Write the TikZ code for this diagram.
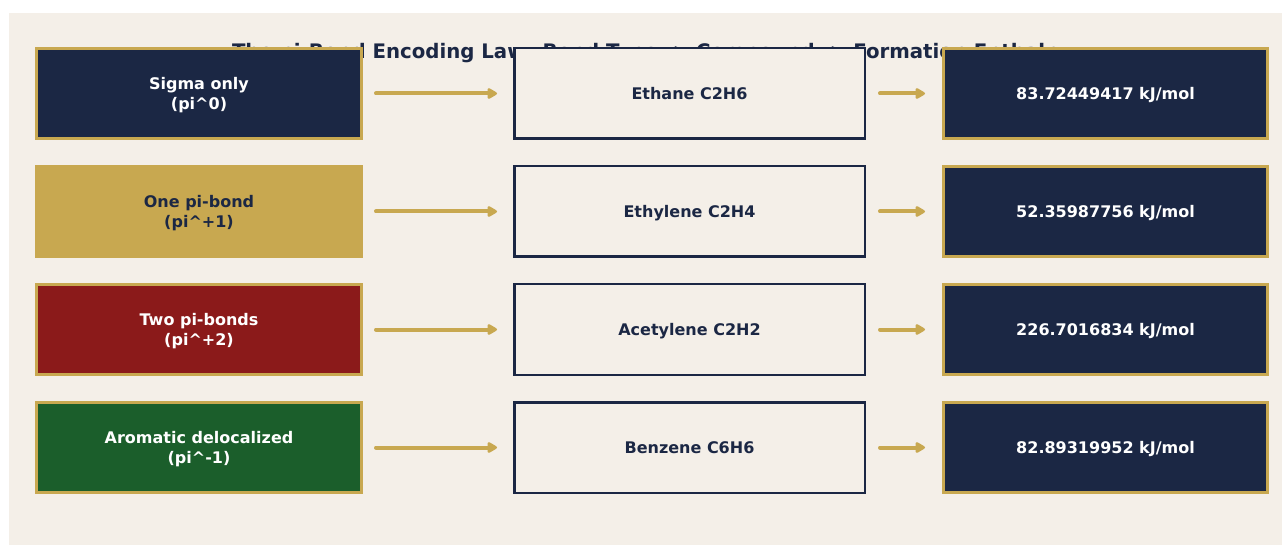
\documentclass[tikz,border=0pt]{standalone}
\usepackage{fontspec}
\usepackage{graphicx}
\setmainfont{DejaVu Sans}
\usetikzlibrary{arrows.meta}

\definecolor{navy}{RGB}{27,39,68}
\definecolor{gold}{RGB}{200,168,80}
\definecolor{bondred}{RGB}{139,26,26}
\definecolor{bondgreen}{RGB}{27,94,43}
\definecolor{paper}{RGB}{244,239,232}

% centred label, set a little low in its box
\newcommand{\boxlabel}[1]{\raisebox{-2pt}[\height][\depth]{\begin{tabular}{@{}c@{}}#1\end{tabular}}}

\tikzset{
  boxtext/.style={font=\bfseries\fontsize{16}{20}\selectfont},
  bondbox/.style={boxtext, rectangle, draw=gold, line width=3pt,
    minimum width=325pt, minimum height=90pt, inner sep=0pt},
  compbox/.style={boxtext, rectangle, draw=navy, fill=paper, text=navy, line width=2.5pt,
    minimum width=350.5pt, minimum height=90.5pt, inner sep=0pt},
  enthbox/.style={boxtext, rectangle, draw=gold, fill=navy, text=white, line width=3pt,
    minimum width=324pt, minimum height=90pt, inner sep=0pt},
  flow/.style={draw=gold, line width=4pt, line cap=round,
    -{Triangle[length=11pt,width=12pt,round]}},
}

\begin{document}
\begin{tikzpicture}[x=1pt, y=-1pt]
  \useasboundingbox (0,0) rectangle (1282,545);
  \fill[white] (0,0) rectangle (1282,545);
  \fill[paper] (9,13) rectangle (1282,545);

  % heading, partly hidden behind the first row of boxes
  \node[text=navy, font=\bfseries\fontsize{20}{24}\selectfont] (title) at (652,53)
    {\resizebox{840pt}{\height}{The pi-Bond Encoding Law: Bond Type -> Compound -> Formation Enthalpy}};

  % bond types
  \node[bondbox, fill=navy, text=white] (b1) at (199,93.5) {\boxlabel{Sigma only\\(pi\^{}0)}};
  \node[bondbox, fill=gold, text=navy] (b2) at (199,211.5) {\boxlabel{One pi-bond\\(pi\^{}+1)}};
  \node[bondbox, fill=bondred, text=white] (b3) at (199,329.5) {\boxlabel{Two pi-bonds\\(pi\^{}+2)}};
  \node[bondbox, fill=bondgreen, text=white] (b4) at (199,447.5) {\boxlabel{Aromatic delocalized\\(pi\^{}-1)}};

  % compounds
  \node[compbox] (c1) at (689.5,93.5) {\boxlabel{Ethane C2H6}};
  \node[compbox] (c2) at (689.5,211.5) {\boxlabel{Ethylene C2H4}};
  \node[compbox] (c3) at (689.5,329.5) {\boxlabel{Acetylene C2H2}};
  \node[compbox] (c4) at (689.5,447.5) {\boxlabel{Benzene C6H6}};

  % formation enthalpies
  \node[enthbox] (e1) at (1105.5,93.5) {\boxlabel{83.72449417 kJ/mol}};
  \node[enthbox] (e2) at (1105.5,211.5) {\boxlabel{52.35987756 kJ/mol}};
  \node[enthbox] (e3) at (1105.5,329.5) {\boxlabel{226.7016834 kJ/mol}};
  \node[enthbox] (e4) at (1105.5,447.5) {\boxlabel{82.89319952 kJ/mol}};

  \foreach \i in {1,...,4} {
    \draw[flow, shorten <=13pt, shorten >=16pt] (b\i.east) -- (c\i.west);
    \draw[flow, shorten <=14pt, shorten >=17pt] (c\i.east) -- (e\i.west);
  }
\end{tikzpicture}
\end{document}
